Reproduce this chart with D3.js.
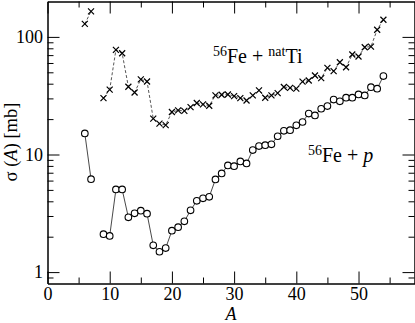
<!DOCTYPE html>
<html>
<head>
<meta charset="utf-8">
<script src="https://cdn.jsdelivr.net/npm/d3@7"></script>
<style>
  body { margin: 0; background: #fff; }
  svg { display: block; }
  text { font-family: "Times New Roman", "Liberation Serif", Times, "DejaVu Serif", serif; fill: #000; }
</style>
</head>
<body>
<div id="chart"></div>
<script>
// mass number A of the fragment (8 has no value: the lines break there)
var massNumbers = [6, 7, 8, 9, 10, 11, 12, 13, 14, 15, 16, 17, 18, 19, 20, 21, 22, 23, 24, 25, 26, 27, 28, 29, 30,
                   31, 32, 33, 34, 35, 36, 37, 38, 39, 40, 41, 42, 43, 44, 45, 46, 47, 48, 49, 50, 51, 52, 53, 54];
// 56Fe + natTi cross sections [mb]
var sigmaTi = [129, 165, null, 30.2, 35.6, 77.6, 72.6, 37.7, 33.7, 43.5, 41.8, 20.2, 18.3, 17.8, 23.0, 23.7, 23.5,
               25.3, 27.4, 26.7, 26.0, 31.8, 32.2, 32.4, 31.4, 30.2, 28.8, 31.8, 35.1, 30.4, 31.8, 33.3, 37.5, 36.9,
               36.3, 41.6, 42.6, 47.0, 44.6, 54.6, 51.1, 60.9, 55.2, 70.8, 68.1, 81.7, 82.7, 115, 140];
// 56Fe + p cross sections [mb]
var sigmaP = [15.1, 6.17, null, 2.10, 2.03, 5.05, 5.05, 2.92, 3.16, 3.33, 3.14, 1.69, 1.49, 1.60, 2.25, 2.41, 2.70,
              3.35, 4.04, 4.24, 4.37, 6.14, 6.90, 8.07, 7.96, 8.73, 8.39, 10.9, 11.8, 12.0, 12.2, 14.3, 15.9, 16.1,
              17.7, 18.9, 22.3, 21.5, 24.5, 25.8, 29.3, 28.3, 30.4, 30.4, 32.4, 31.8, 37.4, 36.3, 46.4];
// tick values
var xMajorTicks = [0, 10, 20, 30, 40, 50];
var xMinorTicks = [5, 15, 25, 35, 45, 55];
var yMajorTicks = [1, 10, 100];
var yMinorTicks = [0.9, 2, 3, 4, 5, 6, 7, 8, 9, 20, 30, 40, 50, 60, 70, 80, 90];

var W = 415, H = 323;
var margin = {left: 47.5, top: 1.5, right: 0.5, bottom: 39.5};
var width = W - margin.left - margin.right;
var height = H - margin.top - margin.bottom;

var svg = d3.select("#chart").append("svg").attr("width", W).attr("height", H);
var g = svg.append("g").attr("transform", "translate(" + margin.left + "," + margin.top + ")");

var x = d3.scaleLinear().domain([0, 59]).range([0, width]);
var y = d3.scaleLog().domain([0.8, 200]).range([height, 0]);

// axes: ticks point inward on all four sides
function drawAxis(axis, tr, showLabels) {
  var a = g.append("g").attr("transform", tr).call(axis).attr("font-family", null);
  a.selectAll("path, line").attr("stroke", "#000").attr("stroke-width", 1);
  a.selectAll("text").style("font-size", "18px").attr("fill", "#000");
  if (!showLabels) a.selectAll("text").remove();
  return a;
}
drawAxis(d3.axisBottom(x).tickValues(xMajorTicks).tickSize(-12).tickSizeOuter(0).tickPadding(3.5).tickFormat(d3.format("d")),
         "translate(0," + height + ")", true);
drawAxis(d3.axisBottom(x).tickValues(xMinorTicks).tickSize(-6).tickSizeOuter(0), "translate(0," + height + ")", false);
drawAxis(d3.axisTop(x).tickValues(xMajorTicks).tickSize(-12).tickSizeOuter(0), "translate(0,0)", false);
drawAxis(d3.axisTop(x).tickValues(xMinorTicks).tickSize(-6).tickSizeOuter(0), "translate(0,0)", false);
drawAxis(d3.axisLeft(y).tickValues(yMajorTicks).tickSize(-12).tickSizeOuter(0).tickPadding(4.5).tickFormat(d3.format("d")),
         "translate(0,0)", true);
drawAxis(d3.axisLeft(y).tickValues(yMinorTicks).tickSize(-6).tickSizeOuter(0), "translate(0,0)", false);
drawAxis(d3.axisRight(y).tickValues(yMajorTicks).tickSize(-12).tickSizeOuter(0), "translate(" + width + ",0)", false);
drawAxis(d3.axisRight(y).tickValues(yMinorTicks).tickSize(-6).tickSizeOuter(0), "translate(" + width + ",0)", false);

var rows = massNumbers.map(function(a, i) { return {a: a, ti: sigmaTi[i], p: sigmaP[i]}; });

// connecting lines
function lineFor(key) {
  return d3.line()
    .defined(function(d) { return d[key] != null; })
    .x(function(d) { return x(d.a); })
    .y(function(d) { return y(d[key]); });
}
g.append("path").datum(rows).attr("d", lineFor("ti"))
  .attr("fill", "none").attr("stroke", "#444").attr("stroke-width", 0.9).attr("stroke-dasharray", "3,2");
g.append("path").datum(rows).attr("d", lineFor("p"))
  .attr("fill", "none").attr("stroke", "#333").attr("stroke-width", 0.9);

// markers: crosses for Ti, open circles for p
var s = 3;
g.selectAll(".cross").data(rows.filter(function(d) { return d.ti != null; })).enter()
  .append("path").attr("class", "cross")
  .attr("d", function(d) {
    var cx = x(d.a), cy = y(d.ti);
    return "M" + (cx - s) + "," + (cy - s) + "L" + (cx + s) + "," + (cy + s) +
           "M" + (cx - s) + "," + (cy + s) + "L" + (cx + s) + "," + (cy - s);
  })
  .attr("stroke", "#000").attr("stroke-width", 1.2).attr("fill", "none");
g.selectAll(".circ").data(rows.filter(function(d) { return d.p != null; })).enter()
  .append("circle").attr("class", "circ")
  .attr("cx", function(d) { return x(d.a); })
  .attr("cy", function(d) { return y(d.p); })
  .attr("r", 3.3)
  .attr("fill", "#fff").attr("stroke", "#000").attr("stroke-width", 1.1);

// axis titles
svg.append("text").attr("x", 231).attr("y", 320).attr("text-anchor", "middle")
  .style("font-size", "18px").style("font-style", "italic").text("A");
var yt = svg.append("text").attr("transform", "translate(17,142) rotate(-90)")
  .attr("text-anchor", "middle").style("font-size", "18.5px");
yt.append("tspan").text("σ (");
yt.append("tspan").style("font-style", "italic").text("A");
yt.append("tspan").text(") [mb]");

// reaction labels
function label(px, py, parts) {
  var t = svg.append("text").attr("x", px).attr("y", py).style("font-size", "20px");
  parts.forEach(function(p) {
    var sp = t.append("tspan").text(p.t);
    if (p.sup) sp.style("font-size", "14px").attr("dy", -7);
    if (p.down) sp.attr("dy", 7);
    if (p.it) sp.style("font-style", "italic");
  });
}
label(213, 63, [{t: "56", sup: true}, {t: "Fe + ", down: true}, {t: "nat", sup: true}, {t: "Ti", down: true}]);
label(308, 162, [{t: "56", sup: true}, {t: "Fe + ", down: true}, {t: "p", it: true}]);
</script>
</body>
</html>
